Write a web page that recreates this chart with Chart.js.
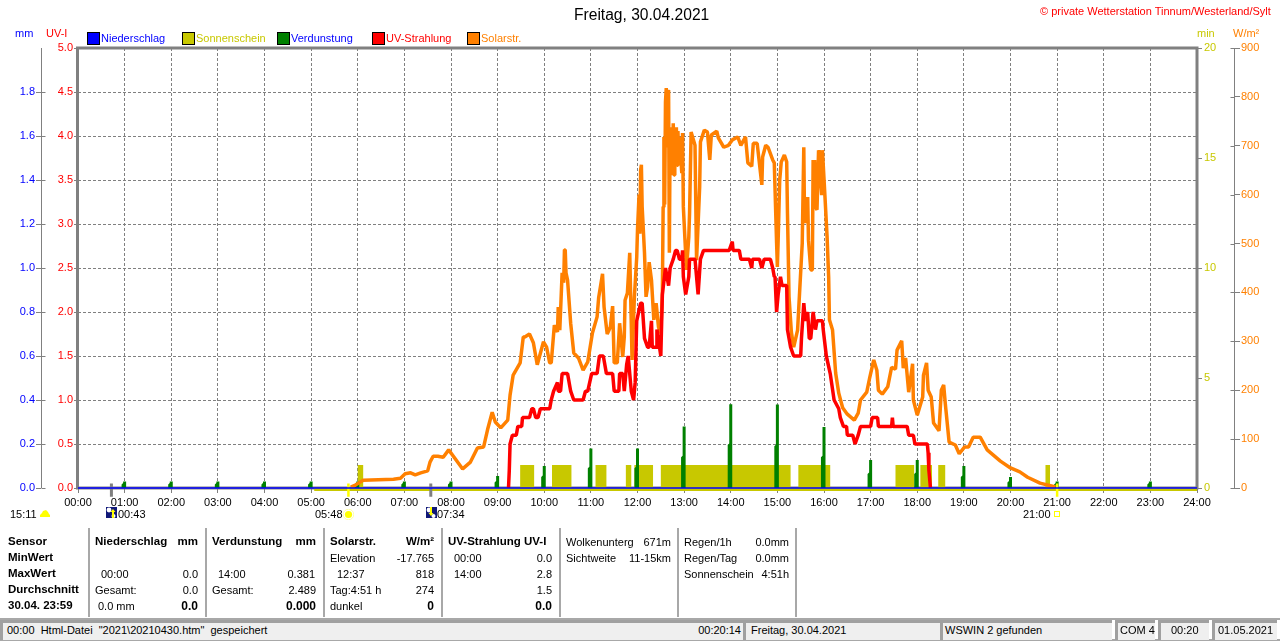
<!DOCTYPE html>
<html lang="de">
<head>
<meta charset="utf-8">
<title>Freitag, 30.04.2021</title>
<script src="https://cdn.jsdelivr.net/npm/chart.js@4/dist/chart.umd.min.js"></script>
<style>
html,body{margin:0;padding:0;background:#fff;width:1280px;height:641px;overflow:hidden}
#wrap{position:relative;width:1280px;height:641px;font-family:"Liberation Sans",Arial,sans-serif;font-size:11px;color:#000}
canvas{position:absolute;left:0;top:0}
.t{position:absolute;white-space:pre;line-height:1;transform:translateY(-50%);z-index:2}
.b{font-weight:bold}
.box{position:absolute;background:#efefef;border-left:3px solid #a0a0a0;border-top:3px solid #a0a0a0;box-sizing:border-box;height:20px;top:620px}
.sep{position:absolute;width:2px;background:#a8a8a8;top:528px;height:89px}
.sw{position:absolute;width:11px;height:11px;top:32px;border:1px solid #000;box-sizing:content-box}
svg{position:absolute}
</style>
</head>
<body>
<div id="wrap"><canvas id="c" width="1280" height="641"></canvas></div>
<script>
// Time axis (minutes of the day), tick every hour
const hourLabels = ["00:00","01:00","02:00","03:00","04:00","05:00","06:00","07:00","08:00","09:00","10:00","11:00","12:00","13:00","14:00","15:00","16:00","17:00","18:00","19:00","20:00","21:00","22:00","23:00","24:00"];

// Solarstrahlung (W/m²)
const solarMin = [351,357,361,367,406,415,421,428,434,441,450,453,457,463,470,477,484,495,505,514,522,527,533,537,544,553,556,560,569,573,575,581,586,591,599,603,607,609,613,617,618,620,623,625,626,627,628,630,634,638,644,650,656,662,668,670,675,677,681,685,688,690,694,697,701,703,704,707,710,713,716,719,720,722,723,724,725,726,729,731,733,735,738,741,744,747,750,752,753,754,755,756,757,758,759,760,761,762,763,764,765,766,767,768,769,770,771,772,773,774,777,778,779,783,786,787,789,792,794,796,800,801,806,810,813,815,822,824,831,837,842,849,853,859,862,867,869,874,880,881,885,888,894,896,899,900,901,903,905,909,912,913,915,918,921,926,932,934,935,939,940,943,945,946,947,948,949,951,953,954,955,956,957,958,961,964,966,967,971,975,979,984,990,999,1004,1007,1015,1019,1024,1028,1030,1035,1042,1047,1052,1054,1060,1062,1065,1069,1074,1075,1080,1087,1088,1092,1094,1098,1101,1108,1111,1114,1116,1121,1129,1134,1141,1146,1152,1161,1170,1187,1200,1212,1222,1238,1258];
const solarVal = [2,6,10,16,18,20,29,31,27,31,35,53,65,65,63,78,63,39,53,82,84,119,155,135,123,139,190,231,256,309,309,315,297,252,299,288,256,256,333,319,370,323,440,420,487,487,440,425,337,276,266,241,258,317,350,389,438,370,315,329,372,256,256,337,268,309,384,399,481,262,391,472,528,600,520,650,661,575,481,391,411,462,425,344,378,329,317,399,575,718,580,790,818,700,810,814,481,738,640,720,650,746,640,720,667,738,660,730,680,718,644,726,575,446,513,562,728,712,701,466,616,708,732,728,671,722,730,716,697,701,712,718,701,718,665,658,705,705,620,677,701,697,671,665,501,452,507,630,667,681,667,562,391,319,288,323,501,697,542,595,507,446,446,671,600,671,575,569,691,640,691,620,599,691,603,513,431,344,323,235,194,164,151,139,153,180,196,227,262,241,200,192,207,247,243,282,301,245,266,196,254,180,149,186,231,256,200,186,133,117,200,211,174,94,88,70,84,84,104,104,78,55,41,33,22,10,2];

// UV-Strahlung (UV-I)
const uvMin = [554,555,556,559,564,566,571,572,581,584,586,589,592,595,607,609,612,617,618,621,623,630,634,638,650,653,656,661,668,671,676,680,688,690,696,697,701,703,706,708,712,715,717,719,724,726,729,733,735,738,739,744,745,750,752,756,760,762,766,769,771,774,777,778,779,782,786,787,794,797,798,801,805,838,842,843,851,853,864,867,868,877,880,883,891,894,896,897,899,901,904,906,912,913,917,921,930,931,934,936,939,941,943,946,949,951,958,959,963,968,973,979,981,985,989,990,997,1000,1004,1007,1020,1022,1029,1030,1047,1048,1049,1067,1069,1075,1077,1093,1094,1095,1097];
const uvVal = [0,0.2,0.5,0.6,0.6,0.7,0.7,0.8,0.8,0.9,0.9,0.8,0.8,0.9,0.9,1.0,1.1,1.2,1.1,1.1,1.3,1.3,1.1,1.0,1.0,1.1,1.1,1.3,1.3,1.5,1.5,1.3,1.3,1.1,1.1,1.3,1.3,1.1,1.4,1.5,1.1,1.0,1.2,1.9,2.1,2.1,1.7,1.6,1.6,1.9,1.6,1.6,1.8,1.5,2.2,2.5,2.3,2.5,2.6,2.7,2.7,2.6,2.6,2.7,2.4,2.2,2.4,2.6,2.6,2.3,2.2,2.6,2.7,2.7,2.8,2.7,2.7,2.6,2.6,2.5,2.6,2.6,2.5,2.6,2.6,2.5,2.4,2.4,2.0,2.2,2.4,2.3,2.3,1.8,1.6,1.5,1.5,1.7,2.1,1.9,2.0,1.7,1.7,2.0,1.8,1.9,1.9,1.8,1.5,1.3,1.0,0.9,0.8,0.7,0.7,0.6,0.6,0.5,0.6,0.7,0.7,0.8,0.8,0.7,0.7,0.8,0.7,0.7,0.6,0.6,0.5,0.5,0.4,0.2,0];

// Verdunstung (mm)
const evapMin = [60,120,180,240,300,360,420,480,540,600,660,720,780,840,900,960,1020,1080,1140,1200,1260,1380];
const evapVal = [0.03,0.03,0.03,0.03,0.03,0.03,0.03,0.03,0.055,0.10,0.18,0.18,0.28,0.381,0.38,0.277,0.127,0.127,0.10,0.05,0.03,0.03];
const evapLow = [0.016,0.016,0.016,0.016,0.016,0.016,0.016,0.016,0.025,0.05,0.09,0.09,0.14,0.195,0.19,0.14,0.064,0.064,0.05,0.025,0.016,0.016];

// Sonnenschein (min)
const sunStart = [360,569,610,666,705,716,750,927,1052,1084,1107,1245];
const sunEnd   = [367,587,635,680,712,740,917,968,1076,1099,1116,1251];
const sunVal   = [1.05,1.05,1.05,1.05,1.05,1.05,1.05,1.05,1.05,1.05,1.05,1.05];
const sunBaseMin = [304,1440];
const sunBaseVal = [-0.07,-0.07];

// Niederschlag (mm)
const rainMin = [0,1440];
const rainVal = [0,0];

// Sun / moon marks on the time axis
const moonMarks = [43,454];
const sunMarks = [348,1260];
const markSpan = [0.2,-0.4];

const uvTicks = 0.5, mmTicks = 0.2, minTicks = 5, wTicks = 100;
const GRAY = '#808080', BLUE = '#0000ff', RED = '#ff0000', OLIVE = '#c8c800', ORANGE = '#ff8000', GREEN = '#008000';

const zip = (xs, ys) => xs.map((x, i) => ({x, y: ys[i]}));
const line = (label, data, color, width, axis, extra) => Object.assign({
  label, data, borderColor: color, backgroundColor: color, borderWidth: width, yAxisID: axis,
  pointRadius: 0, tension: 0, fill: false, borderJoinStyle: 'bevel', borderCapStyle: 'butt'
}, extra || {});

const sunData = [{x: 0, y: 0}].concat(sunStart.flatMap((s, i) => [{x: s, y: sunVal[i]}, {x: sunEnd[i], y: 0}]));
const evapData = evapMin.flatMap((m, i) => [
  {x: m - 2, y: 0}, {x: m - 2, y: evapLow[i]}, {x: m, y: evapLow[i]}, {x: m, y: evapVal[i]}, {x: m, y: 0}, {x: m + 1, y: null}
]);
const markData = (list) => list.flatMap(m => [{x: m, y: markSpan[0]}, {x: m, y: markSpan[1]}, {x: m + 1, y: null}]);

const frame = {
  id: 'frame',
  beforeDatasetsDraw(chart) {
    const a = chart.chartArea, c = chart.ctx;
    c.save();
    c.strokeStyle = GRAY; c.lineWidth = 3;
    c.strokeRect(a.left - 0.5, a.top, a.right - a.left + 0.5, a.bottom - a.top);
    c.lineWidth = 1;
    ['mm', 'watt'].forEach((id, k) => {
      const s = chart.scales[id];
      const ax = Math.round(k === 0 ? s.right : s.left) + 0.5;
      c.beginPath(); c.moveTo(ax, a.top); c.lineTo(ax, a.bottom); c.stroke();
      s.ticks.forEach(t => {
        if (id === 'mm' && t.value > 1.9) return;
        const y = Math.round(s.getPixelForValue(t.value)) + 0.5;
        c.beginPath();
        c.moveTo(ax, y); c.lineTo(k === 0 ? ax + 4 : ax - 4, y); c.stroke();
      });
    });
    c.restore();
  }
};

const font = {family: '"Liberation Sans", Arial, sans-serif', size: 11};
const sideAxis = (position, weight, width, min, max, step, color, tickLen, pad, digits, drawGrid, hideTop) => ({
  type: 'linear', position, weight, min, max,
  afterFit(s) { s.width = width; },
  border: {display: false, dash: [3, 2]},
  grid: {
    display: true, drawOnChartArea: drawGrid, drawTicks: true, tickLength: tickLen,
    color: GRAY, lineWidth: 1, tickBorderDash: [],
    tickColor: (ctx) => (hideTop && ctx.tick && ctx.tick.value > 1.9) ? 'rgba(0,0,0,0)' : GRAY
  },
  ticks: {
    stepSize: step, autoSkip: false, color, font, padding: pad, maxRotation: 0,
    callback: (v) => (hideTop && v > 1.9) ? '' : v.toFixed(digits)
  }
});

new Chart(document.getElementById('c'), {
  type: 'line',
  plugins: [frame],
  data: {
    datasets: [
      line('Niederschlag', zip(rainMin, rainVal), BLUE, 1.5, 'mm', {clip: false}),
      line('UV-Strahlung', zip(uvMin, uvVal), RED, 3.5, 'uv'),
      line('Solarstr.', zip(solarMin, solarVal), ORANGE, 3.5, 'watt'),
      line('Sonnenaufgang/-untergang', markData(sunMarks), '#ffff00', 2.5, 'min', {clip: false, spanGaps: false}),
      line('Mond', markData(moonMarks), GRAY, 3, 'min', {clip: false, spanGaps: false}),
      line('Verdunstung', evapData, GREEN, 3, 'mm', {spanGaps: false}),
      line('Sonnenschein', sunData, OLIVE, 0, 'min', {stepped: 'before', fill: 'origin'}),
      line('Sonnenschein Basis', zip(sunBaseMin, sunBaseVal), OLIVE, 3, 'min', {clip: false})
    ]
  },
  options: {
    responsive: false, animation: false, devicePixelRatio: 1,
    layout: {padding: {top: 48, left: 0, right: 0, bottom: 131}},
    plugins: {legend: {display: false}, title: {display: false}, tooltip: {enabled: false}},
    events: [],
    scales: {
      x: {
        type: 'linear', position: 'bottom', min: 0, max: 1440,
        afterFit(s) { s.height = 22; },
        afterBuildTicks(s) { s.ticks = hourLabels.map((_, i) => ({value: i * 60})); },
        border: {display: false, dash: [3, 2]},
        grid: {color: GRAY, lineWidth: 1, tickLength: 5, tickBorderDash: [], tickColor: GRAY},
        ticks: {
          autoSkip: false, maxRotation: 0, color: '#000', font, padding: 3,
          callback: (v) => hourLabels[v / 60]
        }
      },
      mm: sideAxis('left', 1, 41, 0, 2, mmTicks, BLUE, 5, 1, 1, false, true),
      uv: sideAxis('left', 0, 37, 0, 5, uvTicks, RED, 4, 1, 1, true, false),
      min: sideAxis('right', 0, 37, 0, 20, minTicks, OLIVE, 5, 2, 0, false, false),
      watt: sideAxis('right', 1, 46, 0, 900, wTicks, ORANGE, 6, 1, 0, false, false)
    }
  }
});

// ---- Texts around the chart ----
const wrap = document.getElementById('wrap');
function T(x, y, s, o) {
  o = o || {};
  const d = document.createElement('div');
  d.className = 't' + (o.b ? ' b' : '');
  d.textContent = s;
  d.style.top = y + 'px';
  if (o.r) d.style.right = (1280 - x) + 'px'; else d.style.left = x + 'px';
  if (o.c) d.style.color = o.c;
  if (o.s) d.style.fontSize = o.s + 'px';
  wrap.appendChild(d);
}
T(574, 15, 'Freitag, 30.04.2021', {s: 15.6});
T(1040, 11, '© private Wetterstation Tinnum/Westerland/Sylt', {c: RED});
T(15, 33, 'mm', {c: BLUE}); T(46, 33, 'UV-I', {c: RED});
T(1197, 33, 'min', {c: OLIVE}); T(1233, 33, 'W/m²', {c: ORANGE});

const legendNames = ['Niederschlag', 'Sonnenschein', 'Verdunstung', 'UV-Strahlung', 'Solarstr.'];
const legendFill = [BLUE, OLIVE, GREEN, RED, ORANGE];
const legendText = [BLUE, OLIVE, BLUE, RED, ORANGE];
legendNames.forEach((n, i) => {
  const sw = document.createElement('div');
  sw.className = 'sw';
  sw.style.left = (87 + 95 * i) + 'px';
  sw.style.background = legendFill[i];
  wrap.appendChild(sw);
  T(101 + 95 * i, 38, n, {c: legendText[i]});
});

// Sun / moon times under the axis
T(10, 514, '15:11'); T(118, 514, '00:43'); T(315, 514, '05:48'); T(437, 514, '07:34'); T(1023, 514, '21:00');
function icon(x, y, w, h, inner) {
  wrap.insertAdjacentHTML('beforeend', `<svg style="left:${x}px;top:${y}px" width="${w}" height="${h}" viewBox="0 0 ${w} ${h}">${inner}</svg>`);
}
icon(40, 510, 10, 8, '<path d="M0 7 L0 5 L2 3 L3 1 L6 0 L8 2 L9 4 L10 5 L10 7Z" fill="#ffff00"/>');
const moon = '<rect width="11" height="11" fill="#101878"/><circle cx="3" cy="3" r="2.4" fill="#fff"/><circle cx="7.5" cy="9" r="2" fill="#fff"/>';
icon(106, 507, 11, 11, moon + '<path d="M7 2 L9.5 5 L8 5 L8 11 L6 11 L6 5 L4.5 5Z" fill="#ffff00"/>');
icon(426, 507, 11, 11, moon + '<path d="M5 9 L2.5 6 L4 6 L4 0 L6 0 L6 6 L7.5 6Z" fill="#ffff00"/>');
icon(343, 509, 11, 11, '<circle cx="5.5" cy="5.5" r="3.6" fill="#ffff00"/><circle cx="5.5" cy="5.5" r="5.3" fill="none" stroke="#ffffa0" stroke-width="1"/>');
icon(1054, 511, 6, 6, '<rect x="0.5" y="0.5" width="5" height="5" fill="none" stroke="#ffff00"/>');

// Statistics panel
[88, 205, 323, 441, 559, 677, 795].forEach(x => {
  const s = document.createElement('div');
  s.className = 'sep'; s.style.left = x + 'px'; wrap.appendChild(s);
});
const rows = [542, 558, 574, 590, 606];
['Sensor', 'MinWert', 'MaxWert', 'Durchschnitt', '30.04. 23:59'].forEach((s, i) => T(8, rows[i], s, {b: 1, s: 11.5}));
T(95, rows[0], 'Niederschlag', {b: 1, s: 11.5}); T(198, rows[0], 'mm', {b: 1, r: 1, s: 11.5});
T(101, rows[2], '00:00'); T(198, rows[2], '0.0', {r: 1});
T(95, rows[3], 'Gesamt:'); T(198, rows[3], '0.0', {r: 1});
T(98, rows[4], '0.0 mm'); T(198, rows[4], '0.0', {r: 1, b: 1, s: 12});
T(212, rows[0], 'Verdunstung', {b: 1, s: 11.5}); T(316, rows[0], 'mm', {b: 1, r: 1, s: 11.5});
T(218, rows[2], '14:00'); T(315, rows[2], '0.381', {r: 1});
T(212, rows[3], 'Gesamt:'); T(316, rows[3], '2.489', {r: 1});
T(316, rows[4], '0.000', {r: 1, b: 1, s: 12});
T(330, rows[0], 'Solarstr.', {b: 1, s: 11.5}); T(434, rows[0], 'W/m²', {b: 1, r: 1, s: 11.5});
T(330, rows[1], 'Elevation'); T(434, rows[1], '-17.765', {r: 1});
T(337, rows[2], '12:37'); T(434, rows[2], '818', {r: 1});
T(330, rows[3], 'Tag:4:51 h'); T(434, rows[3], '274', {r: 1});
T(330, rows[4], 'dunkel'); T(434, rows[4], '0', {r: 1, b: 1, s: 12});
T(448, rows[0], 'UV-Strahlung UV-I', {b: 1, s: 11.5});
T(454, rows[1], '00:00'); T(552, rows[1], '0.0', {r: 1});
T(454, rows[2], '14:00'); T(552, rows[2], '2.8', {r: 1});
T(552, rows[3], '1.5', {r: 1});
T(552, rows[4], '0.0', {r: 1, b: 1, s: 12});
T(566, rows[0], 'Wolkenunterg'); T(671, rows[0], '671m', {r: 1});
T(566, rows[1], 'Sichtweite'); T(671, rows[1], '11-15km', {r: 1});
T(684, rows[0], 'Regen/1h'); T(789, rows[0], '0.0mm', {r: 1});
T(684, rows[1], 'Regen/Tag'); T(789, rows[1], '0.0mm', {r: 1});
T(684, rows[2], 'Sonnenschein'); T(789, rows[2], '4:51h', {r: 1});

// Status bar
wrap.insertAdjacentHTML('beforeend', '<div style="position:absolute;left:0;top:618px;width:1280px;height:2px;background:#a8a8a8"></div><div style="position:absolute;left:0;top:639px;width:1280px;height:2px;background:#a8a8a8"></div>');
[[0, 743], [743, 197], [940, 172], [1115, 40], [1158, 51], [1212, 65]].forEach(b => {
  const d = document.createElement('div');
  d.className = 'box';
  d.style.left = b[0] + 'px'; d.style.width = b[1] + 'px';
  wrap.appendChild(d);
});
const bar = 630;
T(7, bar, '00:00  Html-Datei  "2021\\20210430.htm"  gespeichert');
T(741, bar, '00:20:14', {r: 1});
T(751, bar, 'Freitag, 30.04.2021');
T(945, bar, 'WSWIN 2 gefunden');
T(1120, bar, 'COM 4'); T(1171, bar, '00:20'); T(1218, bar, '01.05.2021');
</script>
</body>
</html>
